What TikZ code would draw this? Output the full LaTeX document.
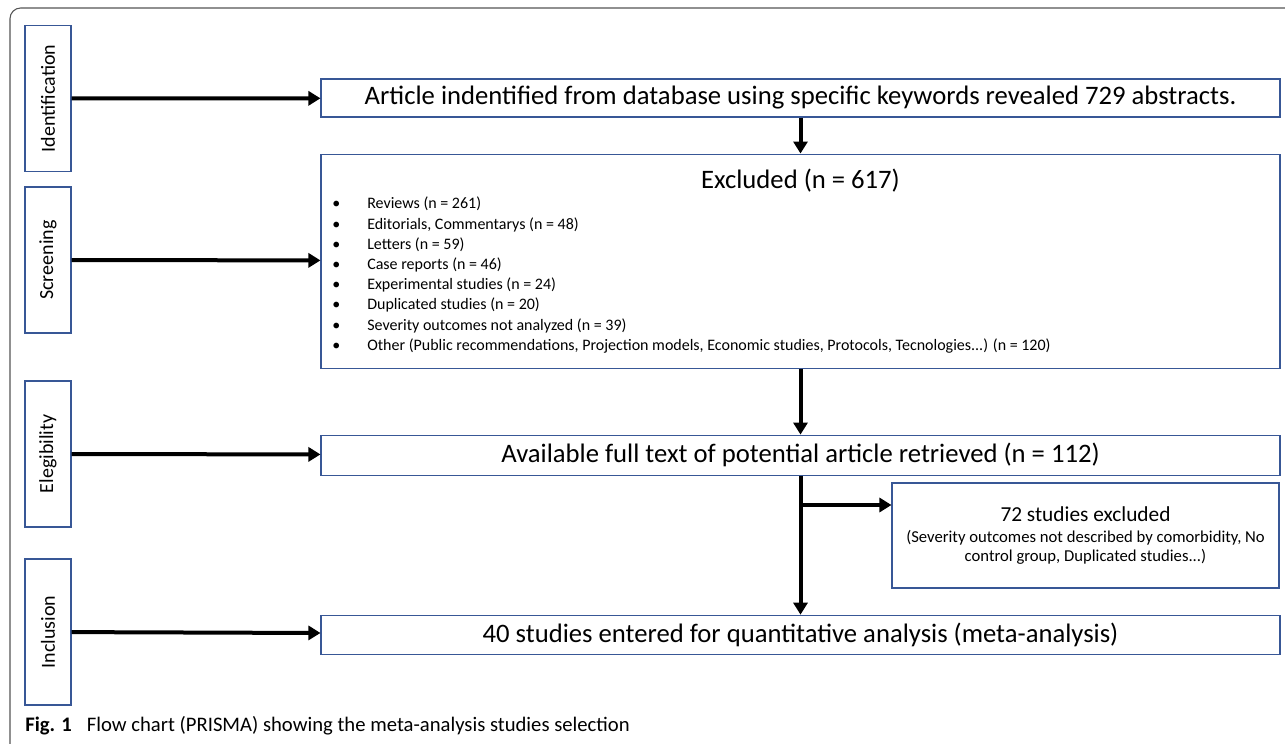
\documentclass[tikz,border=0pt]{standalone}
\usepackage{fontspec}
\setmainfont{Carlito}
\usepackage{xcolor}
\usetikzlibrary{positioning, arrows.meta}
\definecolor{boxblue}{RGB}{56,87,150}
\definecolor{framegray}{RGB}{85,85,85}
\tikzset{
	>={Triangle[length=9pt, width=10.5pt]}, % filled triangle heads
	stagebox/.style={draw=boxblue, line width=0.8pt, minimum width=34.5pt, minimum height=109.5pt, inner sep=0pt, font=\fontsize{15}{18}\selectfont}, % stage boxes on the left
	mainbox/.style={draw=boxblue, line width=0.8pt, minimum width=719.25pt, inner sep=0pt, font=\fontsize{20}{24}\selectfont}, % wide boxes
	flow/.style={->, line width=3pt}, % thick black arrows
}

\begin{document}
\begin{tikzpicture}[x=0.75pt, y=-0.75pt]
	\useasboundingbox (0,0) rectangle (1285,743);
	% Frame
	\draw[framegray, line width=0.8pt, rounded corners=8pt] (1290,8) -- (10,8) -- (10,750);
	
	% Stages
	\node[stagebox] (ident) at (48,98.5) {\rotatebox{90}{Identification}};
	\node[stagebox] (screen) at (48,260) {\rotatebox{90}{Screening}};
	\node[stagebox] (elig) at (48,454) {\rotatebox{90}{Elegibility}};
	\node[stagebox] (incl) at (48,632) {\rotatebox{90}{Inclusion}};
	
	% Boxes
	\node[mainbox, minimum height=28.5pt] (article) at (800.5,98) {Article indentified from database using specific keywords revealed 729 abstracts.};
	\node[mainbox, minimum height=160.5pt, below=27pt of article] (excluded) {};
	\node[font=\fontsize{20}{24}\selectfont, below=8pt of excluded.north] (exctitle) {Excluded (n = 617)};
	\node[anchor=north west, inner sep=0pt, align=left, font=\fontsize{12}{15.15}\selectfont] (exclist) at (332,197) {%
		\makebox[26.25pt][l]{\textbullet}Reviews (n = 261)\\
		\makebox[26.25pt][l]{\textbullet}Editorials, Commentarys (n = 48)\\
		\makebox[26.25pt][l]{\textbullet}Letters (n = 59)\\
		\makebox[26.25pt][l]{\textbullet}Case reports (n = 46)\\
		\makebox[26.25pt][l]{\textbullet}Experimental studies (n = 24)\\
		\makebox[26.25pt][l]{\textbullet}Duplicated studies (n = 20)\\
		\makebox[26.25pt][l]{\textbullet}Severity outcomes not analyzed (n = 39)\\
		\makebox[26.25pt][l]{\textbullet}Other (Public recommendations, Projection models, Economic studies, Protocols, Tecnologies...) (n = 120)};
	\node[mainbox, minimum height=30pt, below=49.5pt of excluded] (avail) {Available full text of potential article retrieved (n = 112)};
	\node[mainbox, minimum height=29.25pt, below=104.25pt of avail] (final) {40 studies entered for quantitative analysis (meta-analysis)};
	\node[draw=boxblue, line width=0.8pt, minimum width=290.25pt, minimum height=78.75pt, inner sep=0pt, align=center, font=\fontsize{12.5}{14.5}\selectfont] (side) at (1085.5,535.5) {%
		{\fontsize{16}{17}\selectfont 72 studies excluded}\\[1pt]
		(Severity outcomes not described by comorbidity, No\\
		control group, Duplicated studies...)};
	
	% Arrows
	\draw[flow] (ident) -- (article);
	\draw[flow] (screen) -- (excluded);
	\draw[flow] (elig) -- (avail);
	\draw[flow] (incl) -- (final);
	\draw[flow] (article) -- (excluded);
	\draw[flow] (excluded) -- (avail);
	\draw[flow] (avail) -- (final);
	\coordinate (split) at (800.5,505);
	\draw[flow] (split) -- (split -| side.west);
	
	% Caption
	\node[anchor=west, inner sep=0pt, font=\fontsize{15.5}{18}\selectfont] (caption) at (25,726) {\textbf{Fig. 1}\hspace{0.5em} Flow chart (PRISMA) showing the meta-analysis studies selection};
\end{tikzpicture}
\end{document}
